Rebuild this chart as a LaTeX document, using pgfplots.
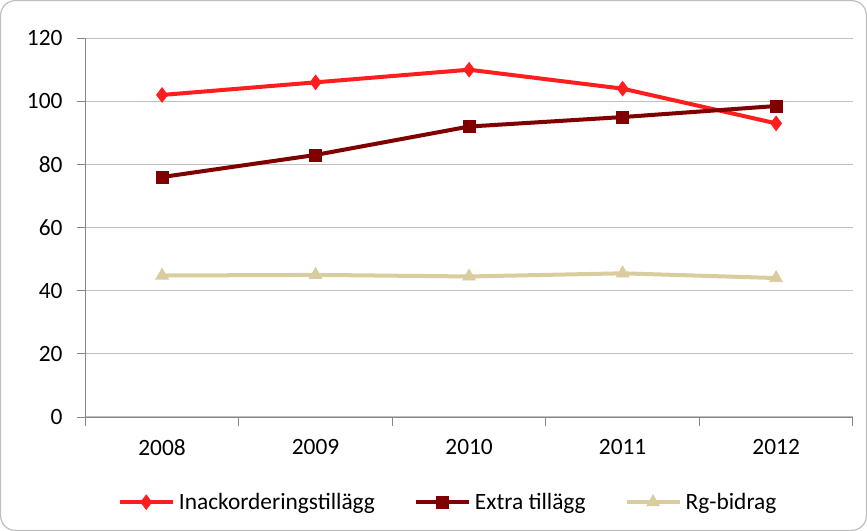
\documentclass[border=0pt]{standalone}
\usepackage{fontspec}
\setmainfont{Carlito}
\usepackage{pgfplots}
\pgfplotsset{compat=1.18}
\definecolor{cred}{RGB}{255,30,30}
\definecolor{cdark}{RGB}{128,0,0}
\definecolor{cbeige}{RGB}{217,204,158}
\definecolor{cgrid}{RGB}{191,191,191}
\definecolor{caxis}{RGB}{134,134,134}
\begin{document}
\begin{tikzpicture}
\draw[cgrid, line width=0.9pt, rounded corners=11pt] (-63.4pt,-84.9pt) rectangle (584.6pt,311.6pt);
\begin{axis}[
  at={(0,0)}, anchor=south west,
  scale only axis,
  width=574.5pt, height=283.5pt,
  xmin=-0.5, xmax=4.5, ymin=0, ymax=120,
  axis x line*=bottom, axis y line*=left,
  axis line style={caxis, line width=0.6pt},
  xtick={-0.5,0.5,1.5,2.5,3.5,4.5},
  xticklabels={},
  extra x ticks={0,1,2,3,4},
  extra x tick labels={2008,2009,2010,2011,2012},
  extra x tick style={major tick length=0pt, grid=none,
    tick label style={font=\fontsize{17.5pt}{20pt}\selectfont, yshift=-13pt}},
  ytick={0,20,...,120},
  ymajorgrids, grid style={cgrid, line width=0.7pt},
  tick align=outside,
  tick style={caxis, line width=0.6pt},
  major tick length=6.5pt,
  tick label style={font=\fontsize{17.5pt}{20pt}\selectfont},
  /pgf/number format/assume math mode=true,
  yticklabel style={xshift=-7pt},
  legend style={at={(0.473,-0.225)}, anchor=center, draw=none, fill=none,
    legend columns=-1, font=\fontsize{17.5pt}{20pt}\selectfont,
    inner xsep=0pt,
    /tikz/every odd column/.append style={column sep=1pt},
    /tikz/every even column/.append style={column sep=27pt}},
  legend image code/.code={\draw[mark repeat=2,mark phase=2] plot coordinates {(0cm,0cm)(0.7cm,0cm)(1.4cm,0cm)};},
  clip=false,
]
\addplot[cred, line width=3pt, mark=diamond*, mark size=5.5pt, mark options={solid, line width=0.5pt}]
  coordinates {(0,102) (1,106) (2,110) (3,104) (4,93)};
\addlegendentry{Inackorderingstillägg}
\addplot[cdark, line width=3pt, mark=square*, mark size=4.5pt, mark options={solid, line width=0.5pt}]
  coordinates {(0,76) (1,83) (2,92) (3,95) (4,98.5)};
\addlegendentry{Extra tillägg}
\addplot[cbeige, line width=3pt, mark=triangle*, mark size=5.5pt, mark options={solid, line width=0.5pt}]
  coordinates {(0,44.8) (1,45) (2,44.5) (3,45.5) (4,44)};
\addlegendentry{Rg-bidrag}
\end{axis}
\end{tikzpicture}
\end{document}
